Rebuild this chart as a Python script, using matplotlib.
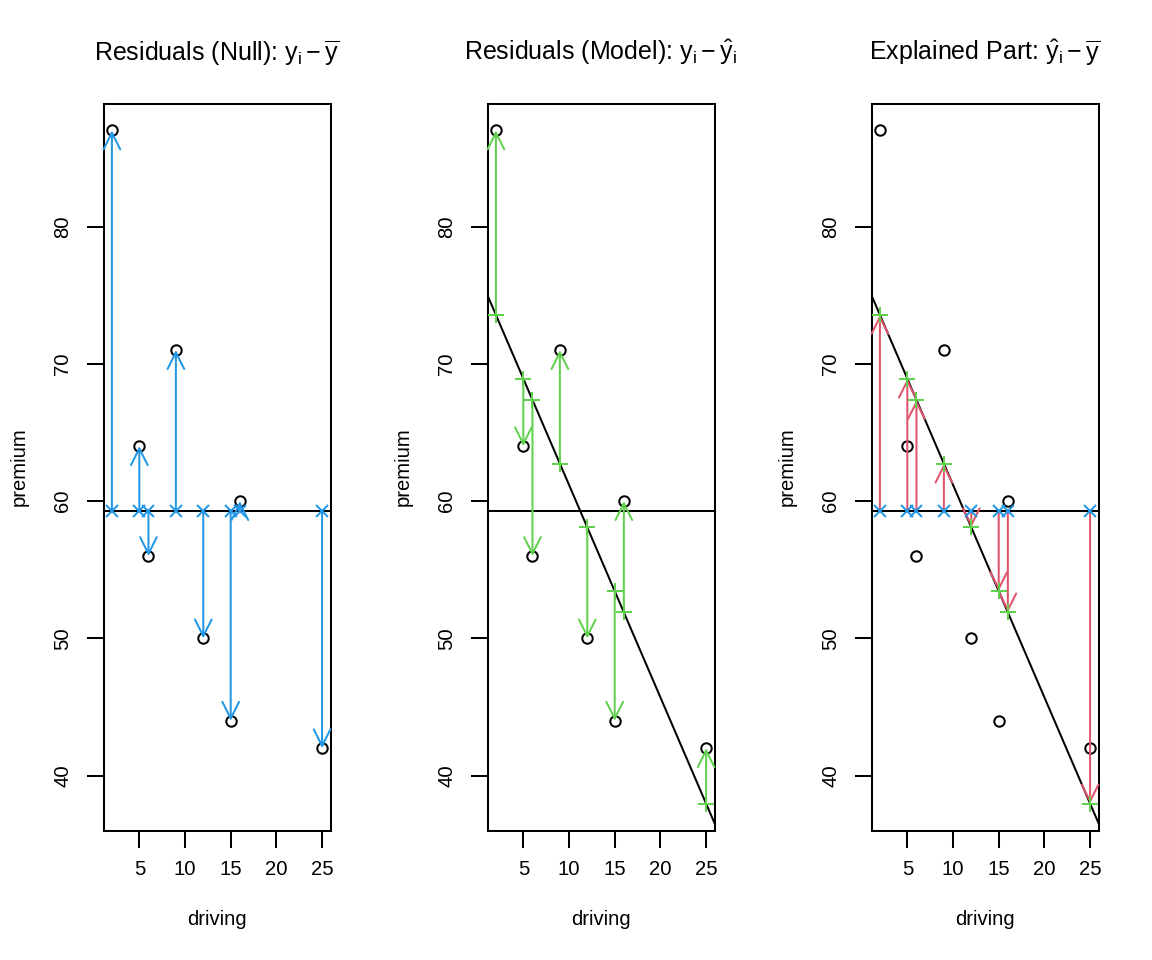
import numpy as np
import matplotlib
matplotlib.use("Agg")
import matplotlib.pyplot as plt
from matplotlib.patches import ArrowStyle

plt.rcParams["font.family"] = ["Liberation Sans", "DejaVu Sans"]
plt.rcParams["mathtext.fontset"] = "custom"
plt.rcParams["mathtext.rm"] = "Liberation Sans"
plt.rcParams["mathtext.it"] = "Liberation Sans"
plt.rcParams["mathtext.bf"] = "Liberation Sans:bold"

# data
driving = np.array([2, 5, 6, 9, 12, 15, 16, 25])
premium = np.array([87, 64, 56, 71, 50, 44, 60, 42])

titles = [
    r"Residuals (Null): $\mathrm{y}_\mathrm{i} - \overline{\mathrm{y}}$",
    r"Residuals (Model): $\mathrm{y}_\mathrm{i} - \hat{\mathrm{y}}_\mathrm{i}$",
    r"Explained Part: $\hat{\mathrm{y}}_\mathrm{i} - \overline{\mathrm{y}}$",
]

blue = "#2297E6"
green = "#61D04F"
red = "#DF536B"

slope, intercept = np.polyfit(driving, premium, 1)
fitted = intercept + slope * driving
ybar = premium.mean()

xr = driving.max() - driving.min()
xlim = (driving.min() - 0.04 * xr, driving.max() + 0.04 * xr)
ylo = min(premium.min(), fitted.min())
yhi = max(premium.max(), fitted.max())
yr = yhi - ylo
ylim = (ylo - 0.04 * yr, yhi + 0.04 * yr)

LW = 1.45

fig = plt.figure(figsize=(11.52, 9.6), dpi=100)
lefts = [103.5 / 1152, 487.5 / 1152, 871.5 / 1152]
bottom = 129.5 / 960
width = 227 / 1152
height = 727 / 960

arrow_style = ArrowStyle("->", head_length=12.0, head_width=6.0)


def draw_arrows(ax, y0, y1, color):
    for x, a, b in zip(driving, y0, y1):
        ax.annotate("", xy=(x, b), xytext=(x, a),
                    arrowprops=dict(arrowstyle=arrow_style, color=color, lw=LW,
                                    shrinkA=0, shrinkB=0, mutation_scale=1),
                    annotation_clip=False)


for k in range(3):
    ax = fig.add_axes([lefts[k], bottom, width, height])
    ax.set_xlim(xlim)
    ax.set_ylim(ylim)
    ax.plot(driving, premium, "o", mfc="none", mec="black", ms=7.5, mew=LW, zorder=3)
    ax.axhline(ybar, color="black", lw=LW)
    if k > 0:
        ax.axline((0, intercept), slope=slope, color="black", lw=LW)

    if k == 0:
        draw_arrows(ax, np.full(len(driving), ybar), premium, blue)
        ax.plot(driving, np.full(len(driving), ybar), "x", color=blue, ms=8.5, mew=LW, zorder=4)
    elif k == 1:
        draw_arrows(ax, fitted, premium, green)
        ax.plot(driving, fitted, "+", color=green, ms=11, mew=LW, zorder=4)
    else:
        draw_arrows(ax, np.full(len(driving), ybar), fitted, red)
        ax.plot(driving, np.full(len(driving), ybar), "x", color=blue, ms=8.5, mew=LW, zorder=4)
        ax.plot(driving, fitted, "+", color=green, ms=11, mew=LW, zorder=4)

    ax.set_xticks([5, 10, 15, 20, 25])
    ax.set_yticks([40, 50, 60, 70, 80])
    ax.tick_params(axis="both", direction="out", length=12.5, width=LW, labelsize=14.6,
                   top=False, right=False)
    ax.tick_params(axis="x", pad=9)
    ax.tick_params(axis="y", pad=10)
    for lab in ax.get_yticklabels():
        lab.set_rotation(90)
        lab.set_va("center")
    for s in ax.spines.values():
        s.set_linewidth(LW)
    ax.set_xlabel("driving", fontsize=14.6, labelpad=22)
    ax.set_ylabel("premium", fontsize=14.6, labelpad=18)
    ax.set_title(titles[k], fontsize=18, pad=31)

fig.savefig("out.png", dpi=100)
